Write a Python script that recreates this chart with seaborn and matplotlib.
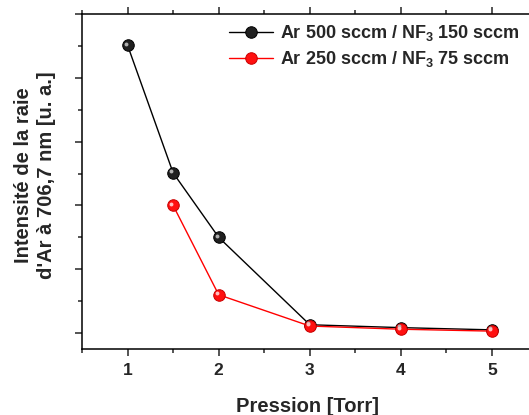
import matplotlib
matplotlib.use("Agg")
import matplotlib.pyplot as plt
import matplotlib.transforms as mtransforms
from matplotlib.ticker import MultipleLocator, NullFormatter
import seaborn as sns
import pandas as pd

# Data (arbitrary units)
pression_500 = [1.0, 1.5, 2.0, 3.0, 4.0, 5.0]
intensite_500 = [4.51, 2.51, 1.50, 0.13, 0.085, 0.05]
pression_250 = [1.5, 2.0, 3.0, 4.0, 5.0]
intensite_250 = [2.0, 0.60, 0.11, 0.06, 0.03]
label_500 = "Ar 500 sccm / NF$_3$ 150 sccm"
label_250 = "Ar 250 sccm / NF$_3$ 75 sccm"
xticks = [1, 2, 3, 4, 5]

sns.set_theme(style="ticks")
plt.rcParams['font.family'] = ['Liberation Sans', 'DejaVu Sans']
plt.rcParams['font.weight'] = 'bold'
plt.rcParams['mathtext.fontset'] = 'custom'
plt.rcParams['mathtext.rm'] = 'Liberation Sans:bold'
plt.rcParams['mathtext.bf'] = 'Liberation Sans:bold'
plt.rcParams['mathtext.default'] = 'bf'

fig = plt.figure(figsize=(5.29, 4.15), dpi=100)
ax = fig.add_axes([82/529, 66/415, (537.6-82)/529, (349-14)/415])

df500 = pd.DataFrame({"x": pression_500, "y": intensite_500})
df250 = pd.DataFrame({"x": pression_250, "y": intensite_250})

sns.lineplot(data=df500, x="x", y="y", ax=ax, color="black", lw=1.0,
             marker="o", markersize=8.3, markerfacecolor="#202020",
             markeredgecolor="black", markeredgewidth=0.7, label=label_500, zorder=3)
sns.lineplot(data=df250, x="x", y="y", ax=ax, color="red", lw=1.0,
             marker="o", markersize=8.3, markerfacecolor="#ff1010",
             markeredgecolor="#c80000", markeredgewidth=0.7, label=label_250, zorder=4)

# sphere highlights
off = mtransforms.offset_copy(ax.transData, fig=fig, x=-1.2, y=1.2, units='points')
ax.plot(pression_500, intensite_500, 'o', ms=2.8, color="#b0b0b0", mec='none', transform=off, zorder=5)
ax.plot(pression_250, intensite_250, 'o', ms=2.8, color="#ffc0c0", mec='none', transform=off, zorder=6)

ax.set_xlim(0.5, 5.5)
ax.set_ylim(-0.25, 5.0)
ax.set_xticks(xticks)
ax.xaxis.set_minor_locator(MultipleLocator(0.5))
ax.yaxis.set_major_locator(MultipleLocator(1.0))
ax.yaxis.set_minor_locator(MultipleLocator(0.5))
ax.yaxis.set_major_formatter(NullFormatter())
ax.tick_params(axis='x', which='major', direction='out', length=5, width=1.1,
               labelsize=12.5, pad=5, top=True)
ax.tick_params(axis='x', which='minor', direction='out', length=3, width=1.1, top=True)
ax.tick_params(axis='y', which='major', direction='out', length=5, width=1.1)
ax.tick_params(axis='y', which='minor', direction='out', length=3, width=1.1)
for lab in ax.get_xticklabels():
    lab.set_fontweight('bold')
for s in ax.spines.values():
    s.set_linewidth(1.1)
    s.set_color('black')

ax.set_xlabel("Pression [Torr]", fontsize=14.5, fontweight='bold')
ax.set_ylabel("Intensité de la raie\nd'Ar à 706,7 nm [u. a.]", fontsize=14.5,
              fontweight='bold', linespacing=1.25)
ax.xaxis.set_label_coords((308-82)/(537.6-82), -(397-349)/335)
ax.yaxis.set_label_coords(-(82-56)/(537.6-82), (349-175)/335)

leg = ax.legend(loc='upper left', bbox_to_anchor=(229/529, (415-23)/415),
                bbox_transform=fig.transFigure, frameon=False, fontsize=13,
                handlelength=2.45, handletextpad=0.35, labelspacing=0.35,
                borderaxespad=0, borderpad=0)
for t in leg.get_texts():
    t.set_fontweight('bold')

fig.savefig("out.png", dpi=100)
